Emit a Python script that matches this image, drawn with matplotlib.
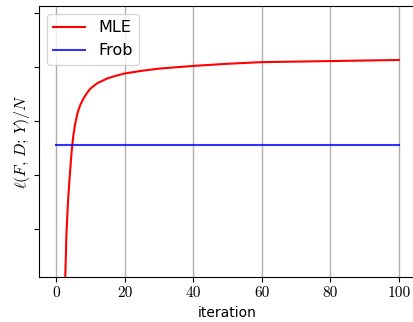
import numpy as np
import matplotlib
matplotlib.use("Agg")
import matplotlib.pyplot as plt

# values (y units arbitrary, one unit per y tick)
mle_iter = [2, 2.5, 3, 3.5, 4, 4.5, 5, 5.5, 6, 6.5, 7, 8, 9, 10, 11, 12,
            13, 15, 17, 20, 25, 30, 40, 50, 60, 70, 80, 90, 100]
mle_val = [-3.0, -1.3, -0.1, 0.55, 1.0, 1.42, 1.72, 1.93, 2.08, 2.2, 2.29,
           2.42, 2.52, 2.6, 2.65, 2.7, 2.73, 2.79, 2.83, 2.88, 2.93, 2.97,
           3.02, 3.06, 3.09, 3.10, 3.11, 3.12, 3.13]
frob_iter = [0, 100]
frob_val = [1.56, 1.56]
xticks = [0, 20, 40, 60, 80, 100]
yticks = [0, 1, 2, 3, 4]

plt.rcParams["mathtext.fontset"] = "cm"

fig = plt.figure(figsize=(4.13, 3.22), dpi=100)
ax = fig.add_axes([39 / 413, 45 / 322, 377 / 413, 271 / 322])

ax.plot(mle_iter, mle_val, color="red", lw=1.5, label="MLE")
ax.plot(frob_iter, frob_val, color="blue", lw=1.5, alpha=0.8, label="Frob")

ax.set_xlim(-5, 105)
ax.set_ylim(-0.89, 4.13)
ax.set_xticks(xticks)
ax.set_xticklabels([str(t) for t in xticks], fontsize=11, fontfamily="cmr10")
ax.set_yticks(yticks)
ax.set_yticklabels([])
ax.grid(True, axis="x", color="#b0b0b0", lw=1)
ax.set_axisbelow(True)

ax.set_xlabel("iteration", fontsize=10)
ax.set_ylabel(r"$\ell(F,\,D;\,Y)/N$", fontsize=11.5, labelpad=-2)
ax.legend(loc="upper left", fontsize=11.5)

fig.savefig("out.png", dpi=100)
